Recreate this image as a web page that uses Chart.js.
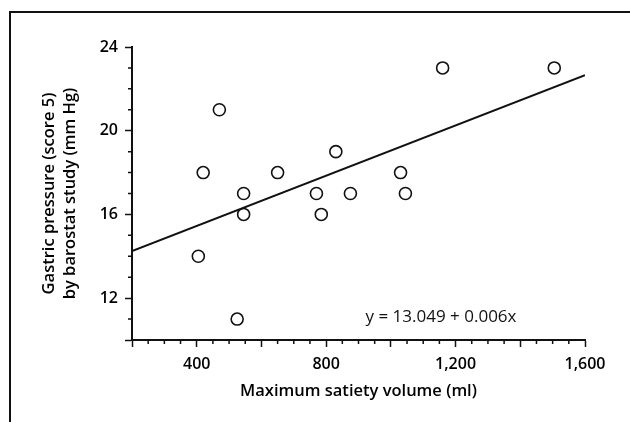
<!DOCTYPE html>
<html>
<head>
<meta charset="utf-8">
<script src="https://cdn.jsdelivr.net/npm/chart.js@4"></script>
<style>
    body { margin: 0; background: #fff; }
    #wrap { position: relative; width: 630px; height: 422px; overflow: hidden; }
    #frame {
        position: absolute; left: 9px; top: 11px; width: 700px; height: 500px;
        border-top: 2px solid #111; border-left: 2px solid #111; pointer-events: none;
    }
</style>
</head>
<body>
<div id="wrap">
    <canvas id="satiety-target" width="630" height="422"></canvas>
    <div id="frame"></div>
</div>
<script>
// scatter points
const satietyVolume = [405, 420, 470, 525, 545, 545, 650, 770, 785, 830, 875, 1030, 1045, 1160, 1505]
const gastricPressure = [14, 18, 21, 11, 17, 16, 18, 17, 16, 19, 17, 18, 17, 23, 23]

// regression line end points: y = 13.049 + 0.006x
const fitVolume = [200, 1600]
const fitPressure = [14.249, 22.649]

const equationText = 'y = 13.049 + 0.006x'
const xTitle = 'Maximum satiety volume (ml)'
const yTitle = ['Gastric pressure (score 5)', 'by barostat study (mm Hg)']

const ink = '#111'
const font = "'Open Sans', sans-serif"

// small ticks between the major ones, plus the equation label
const extras = {
    id: 'extras',
    afterDraw(chart) {
        const ctx = chart.ctx
        const x = chart.scales.x
        const y = chart.scales.y
        ctx.save()
        ctx.strokeStyle = ink
        ctx.lineWidth = 1.5
        ctx.beginPath()
        for (let v = 250; v < 1600; v += 50) {
            if (v % 200 === 0) continue
            const px = x.getPixelForValue(v)
            ctx.moveTo(px, x.top)
            ctx.lineTo(px, x.top + 4)
        }
        for (let v = 11; v < 24; v++) {
            if (v % 4 === 0) continue
            const py = y.getPixelForValue(v)
            ctx.moveTo(y.right - 4, py)
            ctx.lineTo(y.right, py)
        }
        ctx.stroke()

        ctx.fillStyle = ink
        ctx.font = '17px ' + font
        ctx.textAlign = 'center'
        ctx.textBaseline = 'alphabetic'
        ctx.fillText(equationText, x.getPixelForValue(1155), y.getPixelForValue(10.86))
        ctx.restore()
    }
}

window.onload = () => {
    const target = document.getElementById('satiety-target')
    const content = new Chart(target, {
        data: {
            datasets: [{
                type: 'line',
                data: fitVolume.map((v, i) => ({ x: v, y: fitPressure[i] })),
                borderColor: ink,
                borderWidth: 2,
                pointRadius: 0,
                fill: false,
            }, {
                type: 'scatter',
                data: satietyVolume.map((v, i) => ({ x: v, y: gastricPressure[i] })),
                borderColor: ink,
                backgroundColor: '#fff',
                borderWidth: 1.6,
                pointRadius: 6,
            }],
        },
        options: {
            responsive: false,
            animation: false,
            devicePixelRatio: 1,
            layout: { padding: { top: 47, right: 45, left: 0, bottom: 0 } },
            plugins: {
                legend: { display: false },
                tooltip: { enabled: false },
            },
            scales: {
                x: {
                    type: 'linear',
                    min: 200,
                    max: 1600,
                    afterFit: (scale) => { scale.height = 82 },
                    border: { color: ink, width: 2 },
                    grid: { drawOnChartArea: false, tickLength: 7, tickColor: ink, tickWidth: 1.5 },
                    ticks: {
                        stepSize: 200,
                        autoSkip: false,
                        maxRotation: 0,
                        padding: 8,
                        color: '#000',
                        font: { family: font, size: 16, weight: '600' },
                        callback: (v) => v % 400 === 0 ? v.toLocaleString('en-US') : '',
                    },
                    title: {
                        display: true,
                        text: xTitle,
                        color: '#000',
                        font: { family: font, size: 16.5, weight: '600' },
                        padding: { top: 0, bottom: 21 },
                    },
                },
                y: {
                    min: 10,
                    max: 24,
                    afterFit: (scale) => { scale.width = 132 },
                    border: { color: ink, width: 2 },
                    grid: { drawOnChartArea: false, tickLength: 7, tickColor: ink, tickWidth: 1.5 },
                    ticks: {
                        stepSize: 4,
                        padding: 7,
                        color: '#000',
                        font: { family: font, size: 16, weight: '600' },
                        callback: (v) => v === 10 ? '' : v,
                    },
                    title: {
                        display: true,
                        text: yTitle,
                        color: '#000',
                        font: { family: font, size: 16.5, weight: '600', lineHeight: 1.27 },
                        padding: { top: 39, bottom: 0 },
                    },
                },
            },
        },
        plugins: [extras],
    })
}
</script>
</body>
</html>
